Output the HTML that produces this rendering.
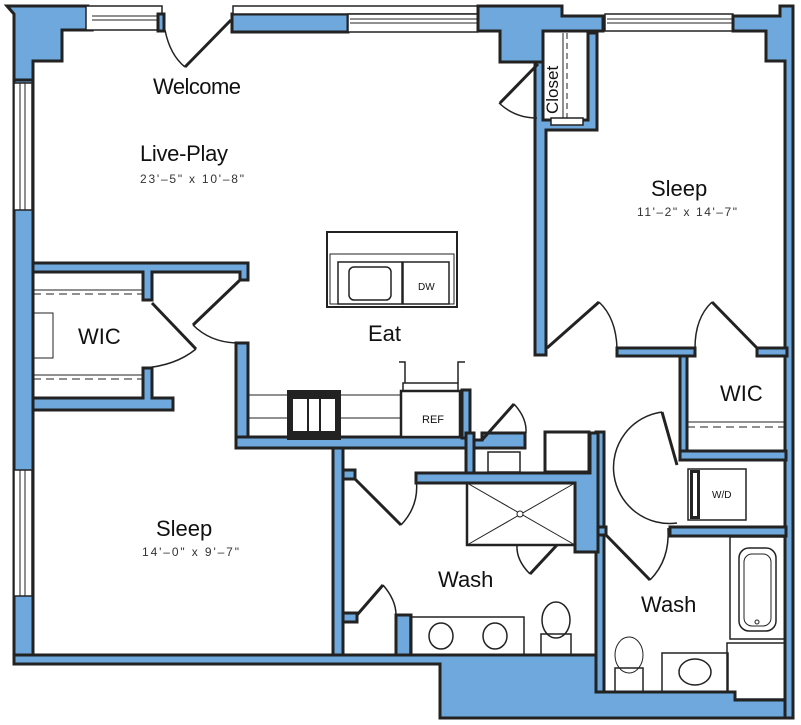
<!DOCTYPE html>
<html><head><meta charset="utf-8"><style>
html,body{margin:0;padding:0;background:#fff;}
svg{display:block}
text{font-family:"Liberation Sans",Arial,sans-serif;fill:#111}
.w{fill:#6fa8dc;stroke:#222;stroke-width:3;stroke-linejoin:miter}
.l{fill:none;stroke:#222;stroke-width:1.5}
.t{fill:none;stroke:#222;stroke-width:1}
.d{fill:none;stroke:#222;stroke-width:4}
.win{fill:#fff;stroke:#222;stroke-width:1.5}
.dim{font-size:12px;fill:#333}
.lab{font-size:22px}
</style></head><body>
<svg width="801" height="725" viewBox="0 0 801 725" xmlns="http://www.w3.org/2000/svg">
<polygon class="w" points="7,6 88,6 92,30 62,30 62,61 33,61 33,80 14,80 14,14"/>
<rect class="w" x="14" y="80" width="19" height="580"/>
<rect class="win" x="14" y="83" width="18" height="127"/>
<line class="t" x1="20" y1="83" x2="20" y2="210"/><line class="t" x1="25" y1="83" x2="25" y2="210"/>
<rect class="win" x="14" y="470" width="18" height="126"/>
<line class="t" x1="20" y1="470" x2="20" y2="596"/><line class="t" x1="25" y1="470" x2="25" y2="596"/>
<rect class="win" x="86" y="6" width="76" height="24"/>
<line class="t" x1="92" y1="16" x2="158" y2="16"/><line class="t" x1="92" y1="20" x2="158" y2="20"/>
<rect class="w" x="158" y="14" width="6" height="17"/>
<rect class="w" x="232" y="14" width="116" height="18"/>
<rect class="win" x="233" y="6" width="245" height="8"/>
<rect class="win" x="348" y="14" width="130" height="18"/>
<line class="t" x1="350" y1="19" x2="478" y2="19"/><line class="t" x1="350" y1="23" x2="478" y2="23"/>
<polygon class="w" points="478,14 478,6 562,6 562,16 603,16 603,31 543,31 543,62 500,62 500,31 478,31"/>
<rect class="win" x="605" y="14" width="128" height="17"/>
<line class="t" x1="607" y1="19" x2="733" y2="19"/><line class="t" x1="607" y1="23" x2="733" y2="23"/>
<polygon class="w" points="733,16 780,16 780,6 793,6 793,718 785,718 785,61 766,61 766,31 733,31"/>
<line class="d" x1="231" y1="20" x2="185" y2="67" style="stroke-width:3"/>
<path class="l" d="M165,30 Q170,55 185,67"/>
<polygon class="w" points="535,62 543,62 543,120 588,120 588,33 597,33 597,130 546,130 546,355 535,355"/>
<rect class="win" x="551" y="118" width="32" height="7"/>
<line class="t" x1="563" y1="33" x2="563" y2="118"/>
<line class="t" x1="567" y1="33" x2="567" y2="118" stroke-dasharray="6,4"/>
<line class="d" x1="538" y1="64" x2="500" y2="103" style="stroke-width:3"/>
<path class="l" d="M499,103 Q515,118 537,118"/>
<text x="0" y="0" transform="translate(558,114) rotate(-90)" font-size="17">Closet</text>
<rect class="w" x="617" y="348" width="78" height="8"/>
<rect class="w" x="757" y="348" width="30" height="8"/>
<line class="d" x1="547" y1="348" x2="599" y2="302" style="stroke-width:3"/>
<path class="l" d="M599,302 Q616,318 617,348"/>
<line class="d" x1="757" y1="348" x2="712" y2="302" style="stroke-width:3"/>
<path class="l" d="M712,302 Q695,318 695,348"/>
<rect class="w" x="680" y="356" width="7" height="104"/>
<rect class="w" x="680" y="451" width="106" height="9"/>
<line class="t" x1="687" y1="422" x2="785" y2="422"/>
<line class="t" x1="687" y1="427" x2="785" y2="427" stroke-dasharray="8,5"/>
<line class="d" x1="677" y1="465" x2="662" y2="412" style="stroke-width:3"/>
<path class="l" d="M662,412 A55,55 0 0 0 677,523"/>
<rect class="l" x="688" y="469" width="58" height="51"/>
<rect x="690" y="470" width="10" height="49" fill="#222"/>
<rect x="693" y="473" width="4" height="43" fill="#fff"/>
<text x="712" y="498" font-size="10">W/D</text>
<rect class="w" x="670" y="527" width="116" height="9"/>
<rect class="w" x="596" y="432" width="8" height="262"/>
<rect class="w" x="596" y="527" width="10" height="8"/>
<line class="d" x1="606" y1="535" x2="650" y2="580" style="stroke-width:3"/>
<path class="l" d="M650,580 Q670,560 668,528"/>
<rect class="l" x="730" y="537" width="55" height="102"/>
<rect class="l" x="739" y="548" width="37" height="83" rx="10"/>
<rect class="t" x="744" y="554" width="27" height="72" rx="8"/>
<circle class="t" cx="757" cy="622" r="2"/>
<rect class="l" x="727" y="643" width="58" height="56"/>
<rect class="l" x="662" y="653" width="66" height="40"/>
<ellipse class="l" cx="695" cy="672" rx="16" ry="13"/>
<ellipse class="t" cx="629" cy="655" rx="14" ry="18"/>
<rect class="l" x="615" y="668" width="28" height="24"/>
<polygon class="w" points="14,655 596,655 596,692 735,692 735,700 785,700 785,718 440,718 440,664 14,664"/>
<polygon class="w" points="33,263 248,263 248,280 240,280 240,272 152,272 152,300 143,300 143,272 33,272"/>
<polygon class="w" points="143,368 152,368 152,398 173,398 173,410 33,410 33,398 143,398"/>
<line class="t" x1="33" y1="290" x2="143" y2="290"/>
<line class="t" x1="33" y1="294" x2="143" y2="294" stroke-dasharray="8,5"/>
<line class="t" x1="33" y1="375" x2="143" y2="375"/>
<line class="t" x1="33" y1="379" x2="143" y2="379" stroke-dasharray="8,5"/>
<rect class="t" x="33" y="313" width="20" height="45"/>
<line class="d" x1="152" y1="303" x2="196" y2="349" style="stroke-width:3"/>
<path class="l" d="M196,349 Q175,366 143,368"/>
<line class="d" x1="240" y1="280" x2="193" y2="325" style="stroke-width:3"/>
<path class="l" d="M193,325 Q210,342 236,343"/>
<rect class="w" x="236" y="343" width="12" height="105"/>
<rect class="w" x="236" y="437" width="234" height="11"/>
<line class="t" x1="248" y1="395" x2="400" y2="395"/>
<line class="t" x1="248" y1="418" x2="290" y2="418"/><line class="t" x1="340" y1="418" x2="400" y2="418"/>
<rect x="287" y="390" width="54" height="50" fill="#222"/>
<rect x="293" y="399" width="14" height="32" fill="#fff"/>
<rect x="321" y="399" width="14" height="32" fill="#fff"/>
<rect x="309" y="399" width="10" height="32" fill="#fff"/>
<rect x="401" y="391" width="59" height="46" fill="#fff" stroke="#222" stroke-width="2.5"/>
<rect class="l" x="403" y="383" width="55" height="8"/>
<path class="l" d="M399,362 L405,362 L405,383 M458,383 L458,362 L465,362"/>
<text x="422" y="423" font-size="11">REF</text>
<rect class="w" x="462" y="390" width="8" height="48"/>
<rect class="l" x="327" y="232" width="130" height="75" style="stroke-width:2"/>
<rect class="t" x="330" y="254" width="124" height="50"/>
<rect class="l" x="338" y="262" width="64" height="42"/>
<rect class="l" x="349" y="267" width="42" height="33" rx="5"/>
<rect class="l" x="403" y="262" width="46" height="42"/>
<text x="418" y="290" font-size="10">DW</text>
<rect class="w" x="333" y="448" width="10" height="207"/>
<rect class="w" x="343" y="470" width="12" height="9"/>
<rect class="w" x="343" y="613" width="14" height="9"/>
<line class="d" x1="355" y1="479" x2="401" y2="525" style="stroke-width:3"/>
<path class="l" d="M401,525 Q420,505 416,478"/>
<line class="d" x1="357" y1="615" x2="383" y2="585" style="stroke-width:3"/>
<path class="l" d="M383,585 Q396,600 396,615"/>
<rect class="w" x="396" y="615" width="15" height="40"/>
<polygon class="w" points="416,473 590,473 590,433 598,433 598,552 575,552 575,483 416,483"/>
<rect class="w" x="466" y="433" width="8" height="40"/>
<polygon class="w" points="474,440 482,440 482,433 525,433 525,448 474,448"/>
<rect class="l" x="488" y="452" width="32" height="20"/>
<rect x="545" y="432" width="44" height="40" fill="#fff" stroke="#222" stroke-width="3"/>
<line class="d" x1="482" y1="440" x2="514" y2="404" style="stroke-width:3"/>
<path class="l" d="M514,404 Q527,418 526,433"/>
<rect class="l" x="467" y="483" width="108" height="62" style="stroke-width:2.5"/>
<line class="t" x1="467" y1="483" x2="575" y2="545"/><line class="t" x1="575" y1="483" x2="467" y2="545"/>
<circle cx="520" cy="514" r="3" fill="#fff" stroke="#222"/>
<line class="d" x1="557" y1="545" x2="530" y2="574" style="stroke-width:3"/>
<path class="l" d="M530,574 Q516,560 517,545"/>
<rect class="l" x="410" y="617" width="114" height="38"/>
<ellipse class="l" cx="441" cy="636" rx="12" ry="13"/>
<ellipse class="l" cx="495" cy="636" rx="12" ry="13"/>
<ellipse class="l" cx="556" cy="620" rx="14" ry="18"/>
<rect class="l" x="541" y="634" width="30" height="21"/>
<text class="lab" x="153" y="94" textLength="88">Welcome</text>
<text class="lab" x="140" y="161" textLength="88">Live-Play</text>
<text class="dim" x="140" y="183" textLength="104">23'–5"  x  10'–8"</text>
<text class="lab" x="368" y="341">Eat</text>
<text class="lab" x="78" y="344">WIC</text>
<text class="lab" x="651" y="196">Sleep</text>
<text class="dim" x="637" y="216" textLength="100">11'–2"  x  14'–7"</text>
<text class="lab" x="156" y="536">Sleep</text>
<text class="dim" x="142" y="556" textLength="97">14'–0"  x  9'–7"</text>
<text class="lab" x="438" y="587">Wash</text>
<text class="lab" x="641" y="612">Wash</text>
<text class="lab" x="720" y="401">WIC</text>
</svg>
</body></html>
